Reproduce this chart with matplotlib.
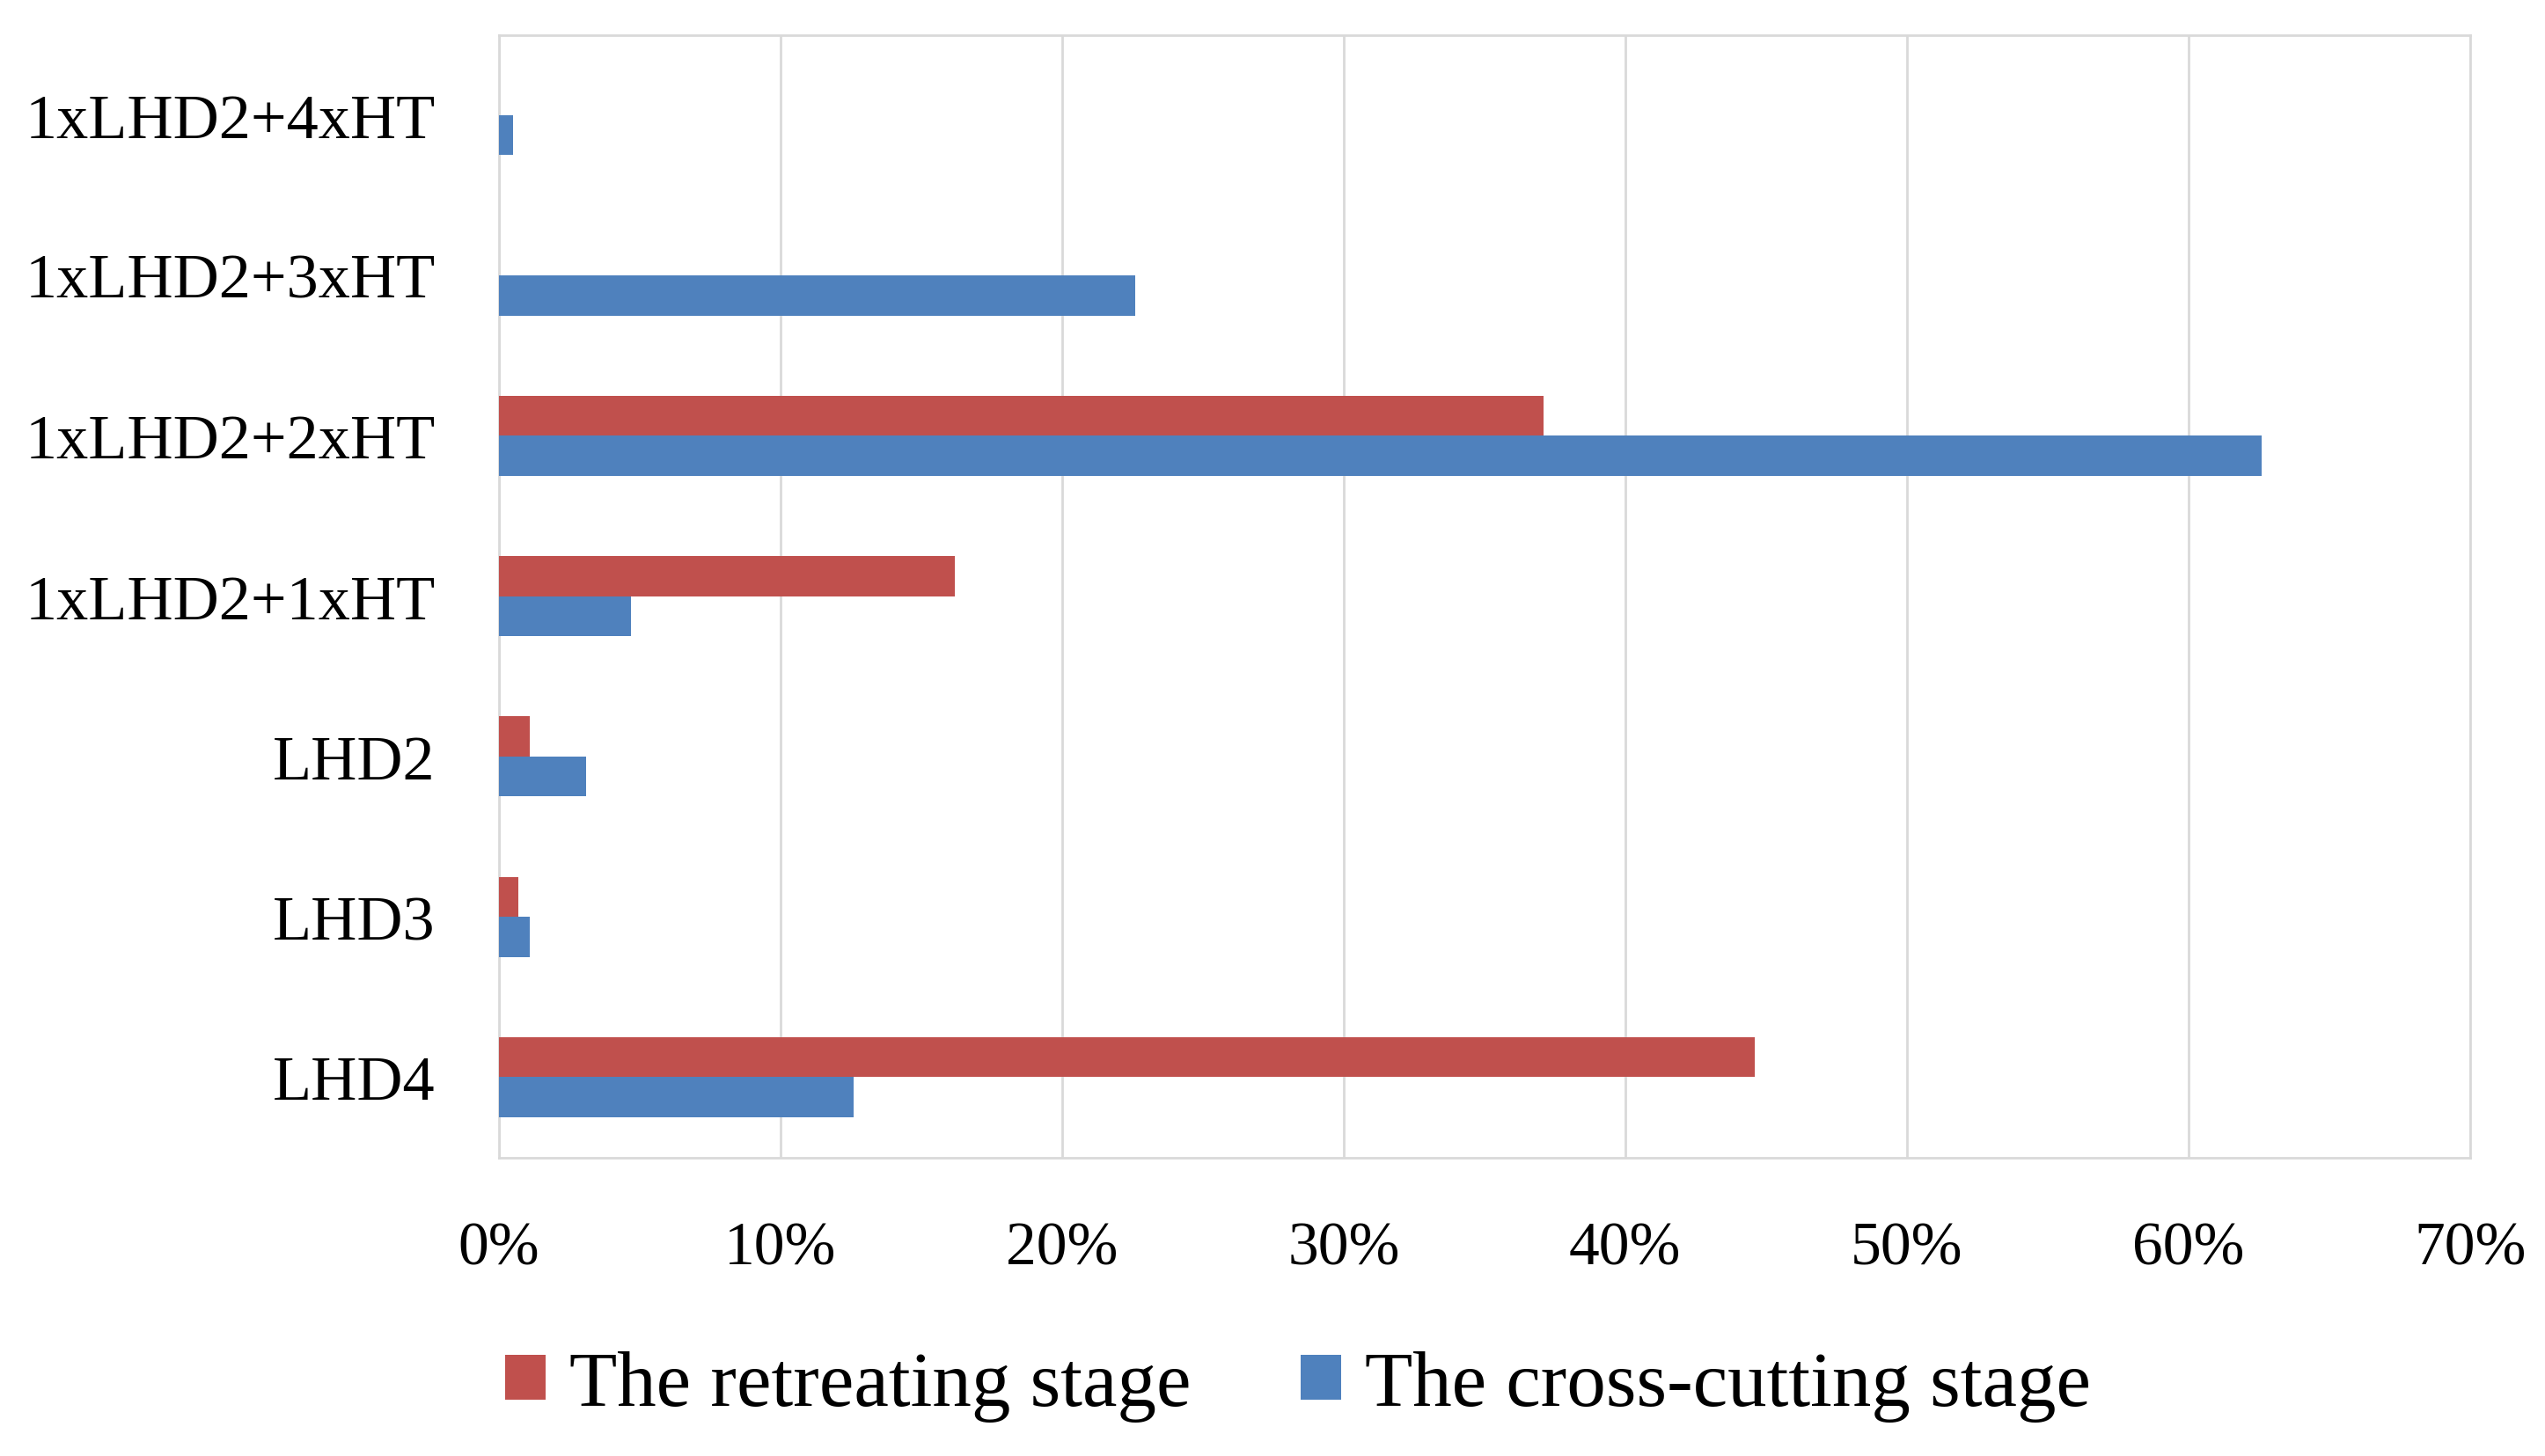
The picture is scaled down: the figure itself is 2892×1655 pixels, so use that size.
import numpy as np
import matplotlib.pyplot as plt
from matplotlib.ticker import FuncFormatter

# categories from bottom to top
categories = ['LHD4', 'LHD3', 'LHD2', '1xLHD2+1xHT', '1xLHD2+2xHT', '1xLHD2+3xHT', '1xLHD2+4xHT']
retreating = [44.6, 0.7, 1.1, 16.2, 37.1, 0.0, 0.0]
cross_cutting = [12.6, 1.1, 3.1, 4.7, 62.6, 22.6, 0.5]
series_names = ['The retreating stage', 'The cross-cutting stage']

plt.rcParams['font.family'] = ['Liberation Serif', 'DejaVu Serif']

fig = plt.figure(figsize=(28.92, 16.56), dpi=100)
ax = fig.add_axes([0.196, 0.205, 0.7745, 0.7705])

y = np.arange(len(categories))
h = 0.25
ax.barh(y + h / 2, retreating, height=h, color='#C0504D', label=series_names[0], zorder=3)
ax.barh(y - h / 2, cross_cutting, height=h, color='#4F81BD', label=series_names[1], zorder=3)

ax.set_xlim(0, 70)
ax.set_ylim(-0.5, len(categories) - 0.5)
ax.set_xticks(np.arange(0, 71, 10))
ax.xaxis.set_major_formatter(FuncFormatter(lambda v, p: '%d%%' % v))
ax.set_yticks(y)
ax.set_yticklabels(categories)

ax.grid(axis='x', color='#d9d9d9', linewidth=2, zorder=0)
for s in ax.spines.values():
    s.set_color('#d9d9d9')
    s.set_linewidth(2)

ax.tick_params(axis='y', length=0, labelsize=52, pad=52)
ax.tick_params(axis='x', length=0, labelsize=50, pad=52)

fig.legend(loc='center', bbox_to_anchor=(0.51, 0.048), ncol=2, frameon=False,
           fontsize=64, handlelength=0.52, handleheight=0.52, handletextpad=0.3,
           columnspacing=1.4)

fig.savefig('out.png', dpi=100)
